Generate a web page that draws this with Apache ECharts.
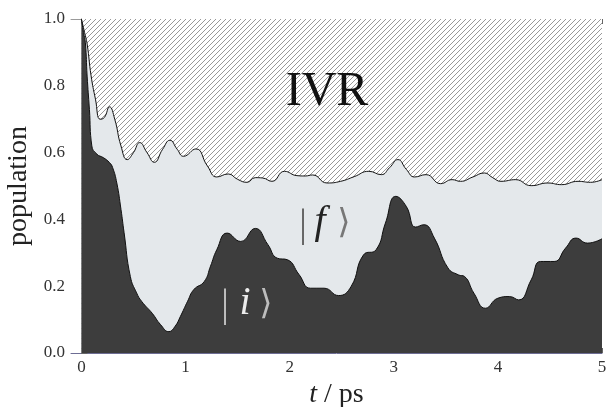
<!DOCTYPE html>
<html>
<head>
<meta charset="utf-8">
<script src="https://cdn.jsdelivr.net/npm/echarts@6/dist/echarts.min.js"></script>
<style>
html, body { margin: 0; padding: 0; background: #fff; }
#chart { width: 609px; height: 407px; }
</style>
</head>
<body>
<div id="chart"></div>
<script>
// total population |i> + |f> (upper curve)
const upperT = [0, 0.03, 0.055, 0.093, 0.135, 0.18, 0.22, 0.27, 0.32, 0.38, 0.44, 0.50, 0.56, 0.63, 0.70, 0.78, 0.85, 0.92, 0.98,
  1.10, 1.21, 1.30, 1.41, 1.50, 1.59, 1.67, 1.74, 1.83, 1.95, 2.07, 2.15, 2.22, 2.36, 2.49, 2.62, 2.76, 2.88, 2.96,
  3.04, 3.12, 3.20, 3.31, 3.45, 3.56, 3.64, 3.76, 3.87, 3.95, 4.03, 4.17, 4.32, 4.48, 4.61, 4.77, 4.89, 5.0];
const upperP = [1.0, 0.96, 0.925, 0.83, 0.76, 0.70, 0.705, 0.737, 0.70, 0.62, 0.579, 0.60, 0.63, 0.60, 0.571, 0.61, 0.637, 0.61, 0.589,
  0.611, 0.56, 0.527, 0.536, 0.52, 0.511, 0.525, 0.524, 0.514, 0.544, 0.531, 0.530, 0.533, 0.509, 0.514, 0.528, 0.544, 0.534, 0.555,
  0.579, 0.55, 0.527, 0.534, 0.507, 0.519, 0.514, 0.527, 0.539, 0.525, 0.514, 0.519, 0.501, 0.509, 0.504, 0.514, 0.511, 0.519];

// population of |i> (lower curve)
const lowerT = [0, 0.02, 0.038, 0.055, 0.077, 0.10, 0.15, 0.21, 0.27, 0.30, 0.34, 0.38, 0.41, 0.47, 0.53, 0.58, 0.68, 0.76, 0.84, 0.90, 0.95,
  1.02, 1.08, 1.18, 1.24, 1.30, 1.40, 1.53, 1.67, 1.79, 1.88, 1.98, 2.09, 2.20, 2.33, 2.47, 2.59, 2.71, 2.83, 2.92,
  3.02, 3.12, 3.21, 3.29, 3.39, 3.52, 3.62, 3.68, 3.77, 3.88, 4.00, 4.11, 4.20, 4.32, 4.41, 4.54, 4.65, 4.75, 4.86, 5.0];
const lowerP = [1.0, 0.96, 0.929, 0.829, 0.729, 0.62, 0.595, 0.585, 0.57, 0.555, 0.509, 0.43, 0.36, 0.229, 0.18, 0.154, 0.119, 0.085, 0.064, 0.08, 0.109,
  0.155, 0.19, 0.214, 0.26, 0.309, 0.359, 0.334, 0.373, 0.325, 0.284, 0.279, 0.235, 0.194, 0.194, 0.172, 0.199, 0.294, 0.309, 0.389,
  0.469, 0.439, 0.377, 0.384, 0.344, 0.255, 0.234, 0.229, 0.179, 0.134, 0.164, 0.169, 0.159, 0.219, 0.274, 0.274, 0.314, 0.344, 0.329, 0.342];

const xTicks = [0, 1, 2, 3, 4, 5];
const xMinorTicks = [];
for (let i = 1; i < 25; i++) { if (i % 5) xMinorTicks.push(i / 5); }

const serif = '"Liberation Serif", "DejaVu Serif", serif';

// diagonal hatch for the IVR region
function hatchPattern() {
  const c = document.createElement('canvas');
  c.width = 5; c.height = 5;
  const ctx = c.getContext('2d');
  ctx.fillStyle = '#fff';
  ctx.fillRect(0, 0, 5, 5);
  ctx.strokeStyle = '#8c8c8c';
  ctx.lineWidth = 0.9;
  ctx.beginPath();
  ctx.moveTo(-1, 6); ctx.lineTo(6, -1);
  ctx.moveTo(-1, 1); ctx.lineTo(1, -1);
  ctx.moveTo(4, 6); ctx.lineTo(6, 4);
  ctx.stroke();
  return c;
}

const chart = echarts.init(document.getElementById('chart'));

const frame = '#9a9a9a';
function xAxisOf(pos, ticks, len, withLabel, lineColor) {
  return {
    type: 'value', position: pos, min: -0.1, max: 5,
    axisLine: { show: !!lineColor, onZero: false, lineStyle: { color: lineColor || frame, width: 1 } },
    axisTick: { show: true, inside: true, length: len, customValues: ticks, lineStyle: { color: '#666' } },
    axisLabel: withLabel ? {
      show: true, customValues: xTicks, margin: 6,
      fontFamily: 'Liberation Serif', fontSize: 17, color: '#333'
    } : { show: false },
    splitLine: { show: false }
  };
}

const bottomAxis = xAxisOf('bottom', xTicks, 5, true, '#6d6d94');
bottomAxis.name = '{i|t} / ps';
bottomAxis.nameLocation = 'middle';
bottomAxis.nameGap = 20;
bottomAxis.nameTextStyle = {
  fontFamily: serif, fontSize: 28, color: '#222',
  rich: { i: { fontFamily: serif, fontSize: 28, fontStyle: 'italic', color: '#222' } }
};

chart.setOption({
  animation: false,
  grid: { left: 71, right: 7, top: 19, bottom: 54, containLabel: false, outerBoundsMode: 'none' },
  xAxis: [
    bottomAxis,
    xAxisOf('bottom', xMinorTicks, 3, false, null),
    xAxisOf('top', xTicks, 5, false, frame),
    xAxisOf('top', xMinorTicks, 3, false, null)
  ],
  yAxis: [
    {
      type: 'value', position: 'left', min: 0, max: 1, interval: 0.2,
      name: 'population', nameLocation: 'middle', nameGap: 36,
      nameTextStyle: { fontFamily: serif, fontSize: 28, color: '#222' },
      axisLine: { show: true, lineStyle: { color: frame } },
      axisTick: { show: true, inside: true, length: 5, lineStyle: { color: '#666' } },
      minorTick: { show: true, splitNumber: 4, length: 3, lineStyle: { color: '#777' } },
      axisLabel: { show: true, margin: 6, fontFamily: 'Liberation Serif', fontSize: 17, color: '#333',
        formatter: v => v.toFixed(1) },
      splitLine: { show: false }, minorSplitLine: { show: false }
    },
    {
      type: 'value', position: 'right', min: 0, max: 1, interval: 0.2,
      axisLine: { show: true, lineStyle: { color: frame } },
      axisTick: { show: true, inside: false, length: 6, lineStyle: { color: '#666' } },
      minorTick: { show: true, splitNumber: 4, length: 3, lineStyle: { color: '#777' } },
      axisLabel: { show: false },
      splitLine: { show: false }, minorSplitLine: { show: false }
    }
  ],
  series: [
    {
      // IVR: everything above the total population
      type: 'line', data: [[0, 1], [5, 1]], symbol: 'none',
      lineStyle: { width: 0 },
      areaStyle: { color: { image: hatchPattern(), repeat: 'repeat' }, opacity: 1 }
    },
    {
      type: 'line', data: upperT.map((t, i) => [t, upperP[i]]), symbol: 'none',
      smooth: 0.5,
      lineStyle: { color: '#111', width: 1 },
      areaStyle: { color: '#e4e8eb', opacity: 1 }
    },
    {
      type: 'line', data: lowerT.map((t, i) => [t, lowerP[i]]), symbol: 'none',
      smooth: 0.5,
      lineStyle: { color: '#111', width: 1 },
      areaStyle: { color: '#3d3d3d', opacity: 1 }
    }
  ],
  graphic: [
    { type: 'text', x: 327, y: 92, z: 100,
      style: { text: 'IVR', font: '48px ' + serif, fill: '#111', align: 'center', verticalAlign: 'middle' } },
    { type: 'text', x: 303, y: 225, z: 100,
      style: { text: '|', font: '40px ' + serif, fill: '#666', align: 'center', verticalAlign: 'middle' } },
    { type: 'text', x: 320, y: 222, z: 100,
      style: { text: 'f', font: 'italic 40px ' + serif, fill: '#222', align: 'center', verticalAlign: 'middle' } },
    { type: 'text', x: 344, y: 224, z: 100,
      style: { text: '⟩', font: '34px "DejaVu Sans", ' + serif, fill: '#777', align: 'center', verticalAlign: 'middle' } },
    { type: 'text', x: 225, y: 305, z: 100,
      style: { text: '|', font: '40px ' + serif, fill: '#bdbdbd', align: 'center', verticalAlign: 'middle' } },
    { type: 'text', x: 245, y: 303, z: 100,
      style: { text: 'i', font: 'italic 40px ' + serif, fill: '#ececec', align: 'center', verticalAlign: 'middle' } },
    { type: 'text', x: 266, y: 305, z: 100,
      style: { text: '⟩', font: '34px "DejaVu Sans", ' + serif, fill: '#bdbdbd', align: 'center', verticalAlign: 'middle' } }
  ]
});
</script>
</body>
</html>
